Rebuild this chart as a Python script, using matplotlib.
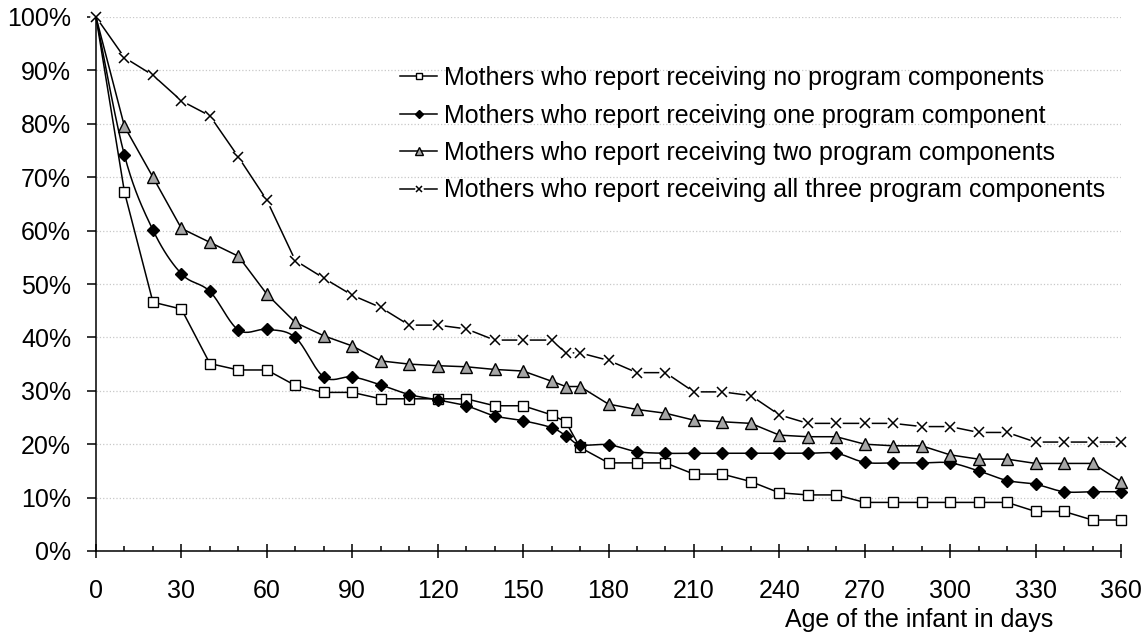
import numpy as np
import matplotlib
matplotlib.use("Agg")
from matplotlib import pyplot as plt
from matplotlib.legend_handler import HandlerTuple

plt.rcParams['font.family'] = ['Liberation Sans', 'DejaVu Sans']

# Data (percent of mothers still breastfeeding)
days = [0, 10, 20, 30, 40, 50, 60, 70, 80, 90, 100, 110, 120, 130, 140, 150, 160, 165, 170,
        180, 190, 200, 210, 220, 230, 240, 250, 260, 270, 280, 290, 300, 310, 320, 330, 340, 350, 360]

no_comp = [100, 67.2, 46.6, 45.3, 35.1, 33.9, 33.9, 31.0, 29.7, 29.7, 28.5, 28.5, 28.5, 28.5, 27.2, 27.2,
           25.5, 24.2, 19.4, 16.5, 16.5, 16.5, 14.4, 14.4, 13.0, 10.9, 10.5, 10.5, 9.1, 9.1, 9.1, 9.1,
           9.1, 9.1, 7.4, 7.4, 5.8, 5.8]
one_comp = [100, 74.1, 60.1, 51.9, 48.6, 41.4, 41.5, 40.0, 32.6, 32.6, 31.1, 29.3, 28.3, 27.2, 25.3, 24.4,
            23.1, 21.6, 19.9, 19.9, 18.6, 18.3, 18.3, 18.3, 18.3, 18.3, 18.3, 18.3, 16.6, 16.5, 16.5, 16.5,
            15.0, 13.2, 12.5, 11.1, 11.1, 11.1]
two_comp = [100, 79.5, 70.0, 60.4, 57.8, 55.2, 48.1, 42.8, 40.3, 38.4, 35.6, 35.0, 34.7, 34.5, 34.0, 33.7,
            31.8, 30.8, 30.8, 27.5, 26.5, 25.8, 24.5, 24.2, 23.9, 21.7, 21.4, 21.4, 20.0, 19.7, 19.7, 18.0,
            17.2, 17.2, 16.4, 16.4, 16.4, 13.0]
all_three = [100, 92.4, 89.1, 84.3, 81.5, 73.8, 65.7, 54.4, 51.1, 47.9, 45.6, 42.3, 42.3, 41.6, 39.5, 39.5,
             39.5, 37.1, 37.1, 35.7, 33.4, 33.4, 29.8, 29.8, 29.1, 25.5, 23.9, 23.9, 23.9, 23.9, 23.3, 23.3,
             22.2, 22.2, 20.4, 20.4, 20.4, 20.4]

labels = ["Mothers who report receiving no program components",
          "Mothers who report receiving one program component",
          "Mothers who report receiving two program components",
          "Mothers who report receiving all three program components"]


def smooth(x, y, n=20):
    # Catmull-Rom style smoothing, like a spreadsheet "smoothed line"
    x = np.asarray(x, float)
    y = np.asarray(y, float)
    px = np.concatenate([[x[0]], x, [x[-1]]])
    py = np.concatenate([[y[0]], y, [y[-1]]])
    xs, ys = [], []
    t = np.linspace(0, 1, n, endpoint=False)
    for i in range(1, len(px) - 2):
        p0, p1, p2, p3 = (np.array([px[j], py[j]]) for j in (i - 1, i, i + 1, i + 2))
        c1 = p1 + (p2 - p0) / 6
        c2 = p2 - (p3 - p1) / 6
        pts = ((1 - t) ** 3)[:, None] * p1 + (3 * (1 - t) ** 2 * t)[:, None] * c1 \
            + (3 * (1 - t) * t ** 2)[:, None] * c2 + (t ** 3)[:, None] * p2
        xs.extend(pts[:, 0])
        ys.extend(pts[:, 1])
    xs.append(x[-1])
    ys.append(y[-1])
    return np.array(xs), np.array(ys)


W, H = 1147, 633
fig = plt.figure(figsize=(W / 100, H / 100), dpi=100)
ax = fig.add_axes([96 / W, (H - 551) / H, 1025 / W, 534 / H])

d = np.array(days)
lw = 1.1
sq = dict(marker='s', ms=7, mfc='white', mec='black', mew=1)
dia = dict(marker='D', ms=6, mfc='black', mec='black')
tri = dict(marker='^', ms=9, mfc='#a6a6a6', mec='black', mew=1)

# all three components: line broken around the crosses
l4a, = ax.plot(d, np.array(all_three) / 100, color='black', lw=lw, marker='o', ms=8,
               mfc='white', mec='white', zorder=2, clip_on=False)
# no components
ax.plot(d, np.array(no_comp) / 100, color='black', lw=lw, zorder=3, clip_on=False)
ax.plot(d[1:], np.array(no_comp[1:]) / 100, ls='none', zorder=3, clip_on=False, **sq)
# one component (smoothed)
sx, sy = smooth(days, one_comp)
ax.plot(sx, sy / 100, color='black', lw=lw, zorder=3, clip_on=False)
ax.plot(d[1:], np.array(one_comp[1:]) / 100, ls='none', zorder=3, clip_on=False, **dia)
# two components
ax.plot(d, np.array(two_comp) / 100, color='black', lw=lw, zorder=3, clip_on=False)
ax.plot(d[1:], np.array(two_comp[1:]) / 100, ls='none', zorder=3, clip_on=False, **tri)
l4b, = ax.plot(d, np.array(all_three) / 100, ls='none', marker='x', ms=7, mew=1.1,
               color='black', zorder=4, clip_on=False)

# legend proxies
l1, = ax.plot([], [], color='black', lw=lw, **sq)
l2, = ax.plot([], [], color='black', lw=lw, **dia)
l3, = ax.plot([], [], color='black', lw=lw, **tri)

ax.set_xlim(0, 360)
ax.set_ylim(0, 1)
ax.set_xticks(np.arange(0, 361, 30))
ax.set_xticks(np.arange(0, 361, 10), minor=True)
ax.set_yticks(np.arange(0, 1.01, 0.1))
ax.set_yticklabels([f"{int(round(v * 100))}%" for v in np.arange(0, 1.01, 0.1)])

for s in ['top', 'right']:
    ax.spines[s].set_visible(False)
for s in ['left', 'bottom']:
    ax.spines[s].set_linewidth(1.1)

ax.tick_params(axis='y', direction='out', length=6.5, width=1.1, pad=11.5, labelsize=18)
ax.tick_params(axis='x', which='major', direction='inout', length=9.5, width=1.1, pad=15.5, labelsize=18)
ax.tick_params(axis='x', which='minor', direction='in', length=3.6, width=1.1)

ax.yaxis.grid(True, color='#c8c8c8', ls=':', lw=0.9)
ax.set_axisbelow(True)

ax.set_xlabel("Age of the infant in days", fontsize=18)
ax.xaxis.set_label_coords((919.5 - 96) / 1025, -0.107)

leg = ax.legend([l1, l2, l3, (l4a, l4b)], labels, handler_map={tuple: HandlerTuple(ndivide=1, pad=0)},
                loc='upper left', bbox_to_anchor=(400 / W, 1 - 66 / H), bbox_transform=fig.transFigure,
                frameon=False, fontsize=18, borderpad=0, borderaxespad=0, handlelength=1.48,
                handletextpad=0.28, labelspacing=0.54, markerscale=0.65)

fig.savefig("out.png", dpi=100)
